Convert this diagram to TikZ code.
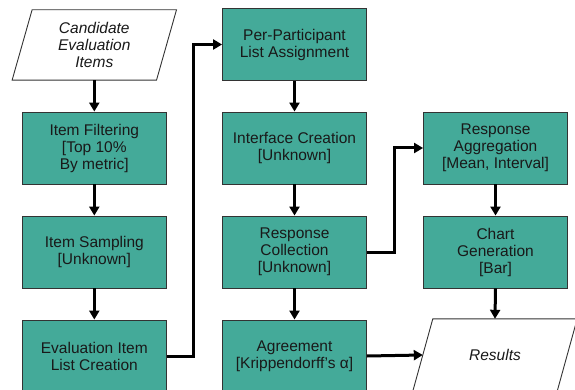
\documentclass[tikz,border=0pt]{standalone}
\usepackage{fontspec}
\setmainfont{Liberation Sans}
\usetikzlibrary{arrows.meta,calc}
\definecolor{procfill}{HTML}{44AA99}
\definecolor{edgegray}{HTML}{333333}
\begin{document}
\begin{tikzpicture}[x=1pt,y=-1pt,
  lbl/.style={font=\fontsize{15.5}{17}\selectfont, align=center, text=black!90},
  procbox/.style={lbl, draw=edgegray, line width=0.9pt, fill=procfill,
    minimum width=144pt, minimum height=72pt, inner sep=2pt},
  iobox/.style={lbl, font=\fontsize{15.5}{17}\selectfont\itshape,
    minimum width=144pt, minimum height=70pt, inner sep=2pt},
  ioframe/.style={draw=edgegray, line width=0.9pt, fill=white},
  flow/.style={line width=3pt, draw=black,
    -{Triangle[length=9pt,width=10pt]}}]
\useasboundingbox (0,0) rectangle (575,390);

% input items (parallelogram)
\node[iobox] (cand) at (94.3,45) {};
\draw[ioframe] ([xshift=-10pt]cand.south west) -- ([xshift=10pt]cand.north west)
  -- ([xshift=10pt]cand.north east) -- ([xshift=-10pt]cand.south east) -- cycle;
\node[iobox] at (cand.center) {Candidate\\Evaluation\\Items};

% first column
\node[procbox] (filt) at (94.3,148) {Item Filtering\\{}[Top 10\%\\By metric]};
\node[procbox] (samp) at (94.3,252) {Item Sampling\\{}[Unknown]};
\node[procbox] (elc)  at (94.3,356) {Evaluation Item\\List Creation};

% second column
\node[procbox] (ppa) at (294.5,44.5) {Per-Participant\\List Assignment};
\node[procbox] (ifc) at (294.5,148) {Interface Creation\\{}[Unknown]};
\node[procbox] (rcl) at (294.5,252) {Response\\Collection\\{}[Unknown]};
\node[procbox] (agr) at (294.5,356) {Agreement\\{}[Krippendorff’s α]};

% third column
\node[procbox] (ragg)  at (495.5,148) {Response\\Aggregation\\{}[Mean, Interval]};
\node[procbox] (chart) at (495.5,252) {Chart\\Generation\\{}[Bar]};

% output results (parallelogram)
\node[iobox, minimum height=72pt] (res) at (495,355) {};
\draw[ioframe] ([xshift=-10pt]res.south west) -- ([xshift=10pt]res.north west)
  -- ([xshift=10pt]res.north east) -- ([xshift=-10pt]res.south east) -- cycle;
\node[iobox] at (res.center) {Results};

% connectors
\draw[flow] (cand.south) -- (filt.north);
\draw[flow] (filt.south) -- (samp.north);
\draw[flow] (samp.south) -- (elc.north);
\draw[flow] (elc.east) -- ++(27,0) |- (ppa.west);
\draw[flow] (ppa.south) -- (ifc.north);
\draw[flow] (ifc.south) -- (rcl.north);
\draw[flow] (rcl.south) -- (agr.north);
\draw[flow] (rcl.east) -- ++(28,0) |- (ragg.west);
\draw[flow] (ragg.south) -- (chart.north);
\draw[flow] (chart.south) -- (res.north);
\draw[flow] (agr.east) -- (res.west);
\end{tikzpicture}
\end{document}
